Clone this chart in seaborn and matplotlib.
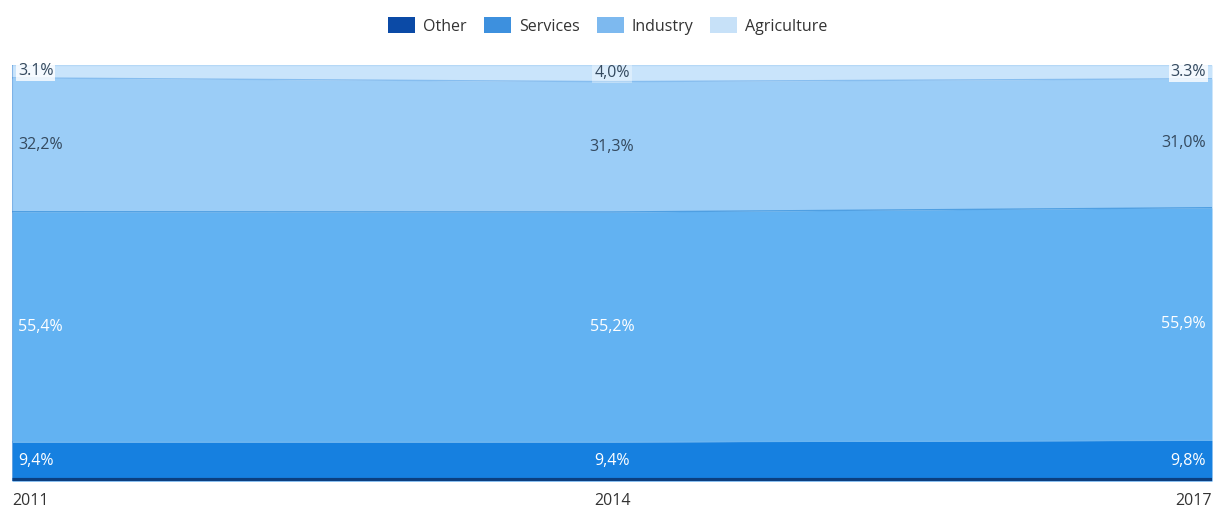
import numpy as np
import pandas as pd
import matplotlib
matplotlib.use("Agg")
import matplotlib.pyplot as plt
import seaborn as sns
from matplotlib.patches import Patch

years = [2011, 2014, 2017]
other = [9.4, 9.4, 9.8]
services = [55.4, 55.2, 55.9]
industry = [32.2, 31.3, 31.0]
agriculture = [3.1, 4.0, 3.3]

series_names = ["Other", "Services", "Industry", "Agriculture"]
fill_colors = ["#1680e0", "#62b2f2", "#9bcdf7", "#c9e4fb"]
edge_colors = ["#6ab4f0", "#4f9fe2", "#86bdef", "#b5d8f6"]
legend_colors = ["#0b4aa6", "#3d90de", "#7db9ef", "#c7e1f8"]
text_colors = ["white", "white", "#34495e", "#34495e"]

sns.set_theme(style="white")
plt.rcParams["font.family"] = ["Open Sans", "DejaVu Sans"]

df = pd.DataFrame({"year": years, "Other": other, "Services": services,
                   "Industry": industry, "Agriculture": agriculture})
totals = df[series_names].sum(axis=1)
shares = df[series_names].div(totals, axis=0) * 100
cum = shares.cumsum(axis=1)

fig = plt.figure(figsize=(12.16, 5.08), dpi=100)
ax = fig.add_axes([12 / 1216, 27 / 508, 1200 / 1216, 416 / 508])

ax.stackplot(df["year"], *[shares[n] for n in series_names],
             colors=fill_colors, linewidth=0)

# thin separators along the top of each layer
for name, ec in zip(series_names, edge_colors):
    sns.lineplot(x=df["year"], y=cum[name], ax=ax, color=ec, linewidth=1.0,
                 legend=False)
ax.plot([years[0], years[-1]], [0.3, 0.3], color="#0b3f80", linewidth=3,
        solid_capstyle="butt")
ax.axvline(years[0], color="#4a90d9", linewidth=1.5, alpha=0.6)

ax.set_xlim(years[0], years[-1])
ax.set_ylim(0, 100)
ax.set_yticks([])
ax.set_xticks([])
ax.set_xlabel("")
ax.set_ylabel("")
for s in ax.spines.values():
    s.set_visible(False)

# year labels under the edges and centre
aligns = ["left", "center", "right"]
for yr, ha in zip(years, aligns):
    ax.text(yr, -2.8, str(yr), ha=ha, va="top", fontsize=11.5,
            color="#333333")

# value labels in the middle of each layer
xpos = [years[0] + 0.03, years[1], years[-1] - 0.03]
raw = {"Other": other, "Services": services, "Industry": industry,
       "Agriculture": agriculture}
for si, name in enumerate(series_names):
    for i, yr in enumerate(years):
        v = raw[name][i]
        mid = cum[name][i] - shares[name][i] / 2
        txt = f"{v:.1f}%"
        if not (name == "Agriculture" and i != 1):
            txt = txt.replace(".", ",")
        kw = {}
        if name == "Agriculture":
            kw["bbox"] = dict(boxstyle="square,pad=0.12", fc="white",
                              ec="none", alpha=0.8 if i != 1 else 0.35)
        ax.text(xpos[i], mid, txt, ha=aligns[i], va="center", fontsize=11.5,
                color=text_colors[si], **kw)

handles = [Patch(facecolor=c, edgecolor="none") for c in legend_colors]
fig.legend(handles, series_names, loc="center", ncol=4,
           bbox_to_anchor=(0.5, 1 - 26 / 508), frameon=False, fontsize=11.5,
           handlelength=1.7, handleheight=1.1, handletextpad=0.5,
           columnspacing=1.05, labelcolor="#333333")

fig.savefig("out.png", dpi=100, facecolor="white")
